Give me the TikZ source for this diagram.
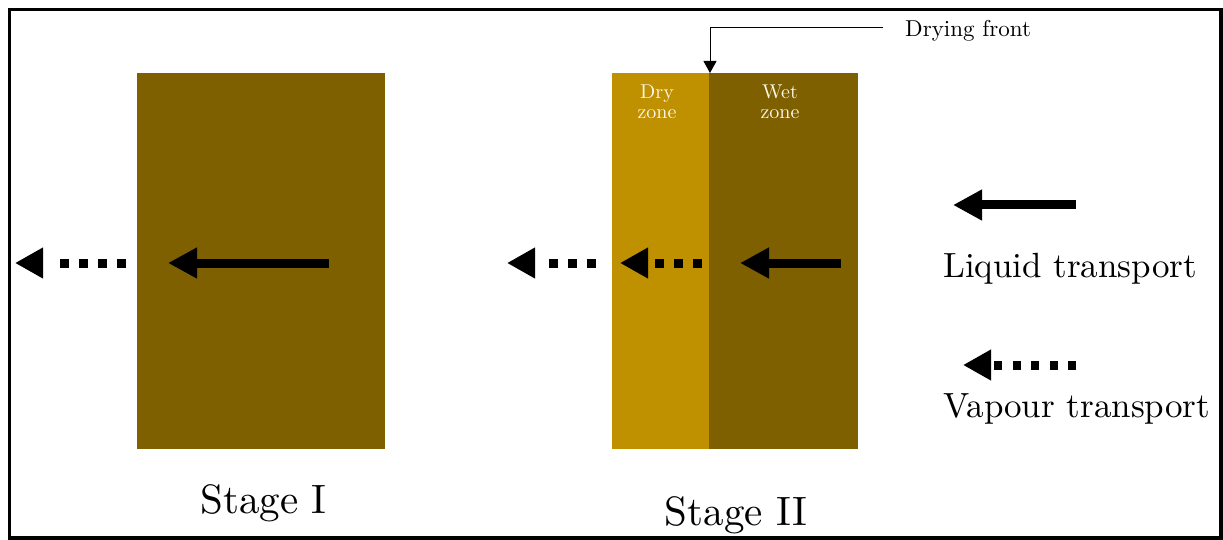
\documentclass[tikz,border=0pt]{standalone}
\usepackage{fontspec}
\setmainfont{lmroman10-regular}[Extension=.otf]
\usetikzlibrary{arrows.meta}
\definecolor{wetbrown}{RGB}{127,96,0}
\definecolor{drygold}{RGB}{191,144,0}
\definecolor{zonetext}{RGB}{250,246,232}
\begin{document}
\begin{tikzpicture}[x=1pt,y=-1pt,
  liquid/.style={line width=9pt,-{Triangle[length=29pt,width=29pt]}},
  vapdots/.style={line width=9pt,dash pattern=on 9pt off 10pt},
  vaphead/.style={line width=9pt,-{Triangle[length=28pt,width=29pt]}},
  block/.style={fill=#1,draw=none,inner sep=0,anchor=north west,minimum height=376pt},
  stagelabel/.style={font=\fontsize{41}{48}\selectfont,anchor=base,inner sep=0},
  legendlabel/.style={font=\fontsize{35}{40}\selectfont,anchor=base west,inner sep=0},
  zonelabel/.style={font=\fontsize{20}{20}\selectfont,text=zonetext,align=center,anchor=north,inner sep=0}]
\useasboundingbox (0,0) rectangle (1223,540);
\draw[line width=3.5pt] (9.5,9.5) rectangle (1221,538);

% Stage I
\node[block=wetbrown,minimum width=248pt] (s1) at (137,73) {};
\draw[liquid] (329,263) -- (168,263);
\draw[vapdots] (126,263) -- (60,263);
\draw[vaphead] (43,263) -- (15,263);
\node[stagelabel] (t1) at (263.5,513) {Stage I};

% Stage II
\node[block=drygold,minimum width=97pt] (dry) at (612,73) {};
\node[block=wetbrown,minimum width=149pt] (wet) at (709,73) {};
\node[zonelabel] (dz) at (657,84.3) {Dry\\zone};
\node[zonelabel] (wz) at (780,84.3) {Wet\\zone};
\draw[liquid] (841,263) -- (740,263);
\draw[vapdots] (702,263) -- (655,263);
\draw[vaphead] (648,263) -- (620,263);
\draw[vapdots] (596,263) -- (549,263);
\draw[vaphead] (535,263) -- (507,263);
\node[stagelabel] (t2) at (736,525) {Stage II};

% Drying front
\node[font=\fontsize{23}{26}\selectfont,anchor=base west,inner sep=0] (df) at (905,36.7) {Drying front};
\coordinate (dfl) at (883,28);
\coordinate (front) at (710,73);
\draw[line width=1pt,-{Triangle[length=12pt,width=13pt]}] (dfl) -| (front);

% Legend
\draw[liquid] (1076,205) -- (953,205);
\node[legendlabel] (lq) at (943,277) {Liquid transport};
\draw[vapdots,dash pattern=on 8pt off 10.5pt] (1076,365) -- (993,365);
\draw[vaphead] (991,365) -- (963,365);
\node[legendlabel] (vp) at (943,417) {Vapour transport};
\end{tikzpicture}
\end{document}
